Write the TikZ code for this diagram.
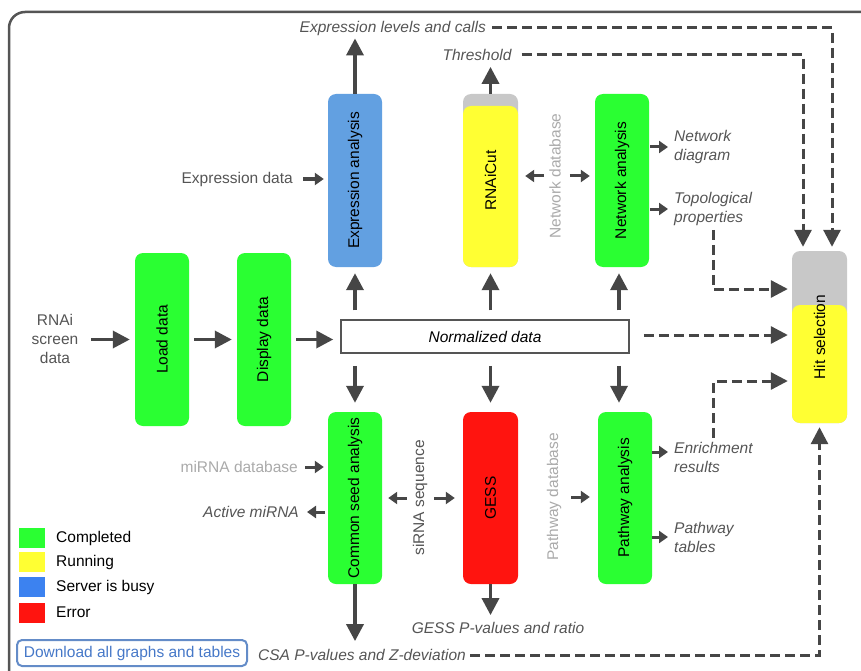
\documentclass[tikz,border=0pt]{standalone}
\usepackage{fontspec}
\setmainfont{Liberation Sans}
\usetikzlibrary{arrows.meta}
\definecolor{cgreen}{RGB}{42,255,50}
\definecolor{cyellow}{RGB}{255,255,51}
\definecolor{cblue}{RGB}{98,160,225}
\definecolor{lblue}{RGB}{60,130,240}
\definecolor{cred}{RGB}{255,20,15}
\definecolor{cgray}{RGB}{200,200,200}
\definecolor{cdark}{RGB}{70,70,70}
\definecolor{ctext}{RGB}{85,85,85}
\definecolor{clight}{RGB}{170,170,170}
\definecolor{cbtn}{RGB}{100,140,200}
\definecolor{cbtntext}{RGB}{70,120,200}
\tikzset{
  fnt/.style={font=\fontsize{15.5}{19}\selectfont},
  boxst/.style={fnt, rounded corners=8pt, minimum width=54pt, inner sep=0pt, text=black},
  lbl/.style={fnt, inner sep=2pt, text=ctext},
  itl/.style={lbl, font=\fontsize{15.5}{19}\selectfont\itshape},
  gry/.style={lbl, text=clight},
  big/.style={line width=3.5pt, draw=cdark, -{Triangle[length=17pt,width=17pt]}},
  small/.style={line width=3pt, draw=cdark, -{Triangle[length=9pt,width=12pt]}},
  dsh/.style={line width=3pt, draw=cdark, dash pattern=on 10pt off 5pt, -{Triangle[length=17pt,width=17pt]}},
  legsq/.style={minimum width=26pt, minimum height=20pt, inner sep=0pt},
}
\begin{document}
\begin{tikzpicture}[x=1pt,y=-1pt]
\useasboundingbox (0,0) rectangle (861,671);
\begin{scope}
\clip (0,0) rectangle (861,671);
\draw[line width=2.5pt, draw=ctext, rounded corners=16pt] (9,12) rectangle (885,695);
\end{scope}

% boxes
\node[boxst, fill=cblue, minimum height=173pt] (expr) at (355,180.5) {\rotatebox{90}{Expression analysis}};
\node[boxst, fill=cgray, minimum width=55pt, minimum height=173pt] (rnaibg) at (490.5,180.5) {};
\node[boxst, fill=cyellow, minimum width=55pt, minimum height=161pt] (rnai) at (490.5,186.5) {};
\node[fnt, inner sep=0pt] (rnailbl) at (rnaibg.center) {\rotatebox{90}{RNAiCut}};
\node[boxst, fill=cgreen, minimum height=173pt] (net) at (622,180.5) {\rotatebox{90}{Network analysis}};
\node[boxst, fill=cgreen, minimum height=173pt] (load) at (162,339.5) {\rotatebox{90}{Load data}};
\node[boxst, fill=cgreen, minimum height=173pt] (disp) at (264,339.5) {\rotatebox{90}{Display data}};
\node[fnt, draw=ctext, line width=1.5pt, fill=white, minimum width=288pt, minimum height=33pt, inner sep=0pt] (norm) at (485,336.5) {\itshape Normalized data};
\node[boxst, fill=cgreen, minimum height=172pt] (csa) at (355,498) {\rotatebox{90}{Common seed analysis}};
\node[boxst, fill=cred, minimum width=55pt, minimum height=172pt] (gess) at (490.5,498) {\rotatebox{90}{GESS}};
\node[boxst, fill=cgreen, minimum height=172pt] (path) at (625,498) {\rotatebox{90}{Pathway analysis}};
\node[boxst, fill=cgray, minimum width=55pt, minimum height=172pt] (hitbg) at (819.5,337) {};
\node[boxst, fill=cyellow, minimum width=55pt, minimum height=118pt] (hit) at (819.5,364) {};
\node[fnt, inner sep=0pt] (hitlbl) at (hitbg.center) {\rotatebox{90}{Hit selection}};

% texts
\node[itl, anchor=east] (exlevels) at (488,28) {Expression levels and calls};
\node[itl] (threshold) at (477,55) {Threshold};
\node[lbl, anchor=east] (exprdata) at (295,179) {Expression data};
\node[gry] (netdb) at (555,176) {\rotatebox{90}{Network database}};
\node[itl, anchor=west, align=left] (netdiag) at (672,147) {Network\\diagram};
\node[itl, anchor=west, align=left] (topo) at (672,209) {Topological\\properties};
\node[lbl, align=center] (rnaitxt) at (55,338.5) {RNAi\\screen\\data};
\node[gry, anchor=east] (mirnadb) at (300,467) {miRNA database};
\node[itl, anchor=east] (active) at (301,512) {Active miRNA};
\node[lbl] (sirna) at (420,498) {\rotatebox{90}{siRNA sequence}};
\node[gry] (pathdb) at (554,497) {\rotatebox{90}{Pathway database}};
\node[itl, anchor=west, align=left] (enrich) at (672,457) {Enrichment\\results};
\node[itl, anchor=west, align=left] (pathtab) at (672,537) {Pathway\\tables};
\node[itl] (gessp) at (498,628) {GESS P-values and ratio};
\node[itl, anchor=east] (csap) at (468,655) {CSA P-values and Z-deviation};

% legend
\node[legsq, fill=cgreen] (lg1) at (32,538) {};
\node[legsq, fill=cyellow] (lg2) at (32,562) {};
\node[legsq, fill=lblue] (lg3) at (32,587) {};
\node[legsq, fill=cred] (lg4) at (32,612.5) {};
\node[fnt, anchor=west, inner sep=0pt] (lt1) at (56,538) {Completed};
\node[fnt, anchor=west, inner sep=0pt] (lt2) at (56,562) {Running};
\node[fnt, anchor=west, inner sep=0pt] (lt3) at (56,587) {Server is busy};
\node[fnt, anchor=west, inner sep=0pt] (lt4) at (56,612.5) {Error};
\node[fnt, draw=cbtn, line width=2pt, rounded corners=5pt, text=cbtntext, minimum width=230pt, minimum height=26pt, inner sep=0pt] (btn) at (132,653) {Download all graphs and tables};

% main arrows
\draw[big, shorten <=11pt, shorten >=5pt] (rnaitxt.east |- load.west) -- (load.west);
\draw[big, shorten <=5pt, shorten >=5pt] (load.east) -- (disp.west);
\draw[big, shorten <=5pt, shorten >=7pt] (disp.east) -- (disp.east -| norm.west);
\draw[big, shorten <=9pt, shorten >=6pt] (norm.north -| expr.south) -- (expr.south);
\draw[big, shorten <=9pt, shorten >=6pt] (norm.north -| rnaibg.south) -- (rnaibg.south);
\draw[big, shorten <=9pt, shorten >=6pt] ([xshift=-3pt]norm.north -| net.south) -- ([xshift=-3pt]net.south);
\draw[big, shorten <=12pt, shorten >=9pt] (norm.south -| csa.north) -- (csa.north);
\draw[big, shorten <=12pt, shorten >=9pt] (norm.south -| gess.north) -- (gess.north);
\draw[big, shorten <=12pt, shorten >=9pt] ([xshift=-6pt]norm.south -| path.north) -- ([xshift=-6pt]path.north);
\draw[big, shorten >=1pt] (expr.north) -- (expr.north |- exlevels.south);
\draw[big, shorten >=4pt] (rnaibg.north) -- (rnaibg.north |- threshold.south);
\draw[big, shorten >=6pt] (csa.south) -- (csa.south |- csap.north);
\draw[big, shorten >=5pt] (gess.south) -- (gess.south |- gessp.north);

% small arrows
\draw[small, shorten <=8pt, shorten >=4pt] (exprdata.east) -- (exprdata.east -| expr.west);
\draw[small, shorten <=3pt, shorten >=7pt] (netdb.west) -- (netdb.west -| rnai.east);
\draw[small, shorten <=7pt, shorten >=5pt] (netdb.east) -- (netdb.east -| net.west);
\draw[small, shorten <=1pt, shorten >=4pt] (net.east |- netdiag.west) -- (netdiag.west);
\draw[small, shorten <=1pt, shorten >=4pt] (net.east |- topo.west) -- (topo.west);
\draw[small, shorten <=5pt, shorten >=4pt] (mirnadb.east) -- (mirnadb.east -| csa.west);
\draw[small, shorten <=3pt, shorten >=6pt] (csa.west |- active.east) -- (active.east);
\draw[small, shorten <=4pt, shorten >=6pt] (sirna.west) -- (sirna.west -| csa.east);
\draw[small, shorten <=5pt, shorten >=8pt] (sirna.east) -- (sirna.east -| gess.west);
\draw[small, shorten <=8pt, shorten >=8pt] (pathdb.east) -- (pathdb.east -| path.west);
\draw[small, shorten <=0pt, shorten >=4pt] ([yshift=5pt]path.east |- enrich.west) -- ([yshift=5pt]enrich.west);
\draw[small, shorten <=0pt, shorten >=4pt] (path.east |- pathtab.west) -- (pathtab.west);

% dashed connectors to hit selection
\draw[dsh, shorten <=4pt, shorten >=4pt] (exlevels.east) -| ([xshift=12.5pt]hitbg.north);
\draw[dsh, shorten <=8pt, shorten >=4pt] (threshold.east) -| ([xshift=-16.5pt]hitbg.north);
\draw[dsh, shorten <=2pt, shorten >=4pt] (topo.south) |- ([yshift=48pt]hitbg.west);
\draw[dsh, shorten <=14pt, shorten >=4pt] ([yshift=1.5pt]norm.east) -- ([yshift=1.5pt]norm.east -| hitbg.west);
\draw[dsh, shorten <=2pt, shorten >=4pt] (enrich.north) |- ([yshift=-44pt]hitbg.west);
\draw[dsh, shorten <=2pt, shorten >=4pt] (csap.east) -| (hitbg.south);
\end{tikzpicture}
\end{document}
